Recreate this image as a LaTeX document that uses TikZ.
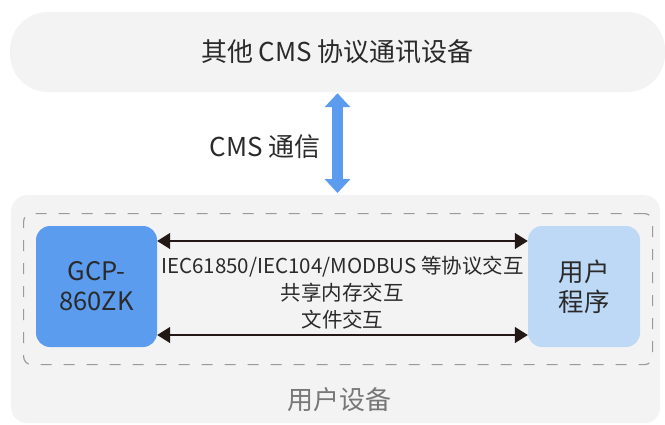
\documentclass[tikz,border=0pt]{standalone}
\usepackage{fontspec}
\setmainfont{Noto Sans CJK SC}
\usetikzlibrary{arrows.meta}
\definecolor{panel}{HTML}{F3F3F3}
\definecolor{dash}{HTML}{9A9A9A}
\definecolor{gcpblue}{HTML}{5C9CEE}
\definecolor{lightblue}{HTML}{BED9F6}
\definecolor{arrowblue}{HTML}{5C9CEE}
\definecolor{txt}{HTML}{2A2A2A}
\definecolor{graytxt}{HTML}{777777}
\definecolor{darkarrow}{HTML}{231815}
\tikzset{
  panelbox/.style={fill=panel, draw=none, inner sep=0pt},
  devbox/.style={draw=none, inner sep=0pt, rounded corners=14pt, minimum width=121pt, minimum height=121pt, align=center, text=txt, font=\fontsize{25.5}{30}\selectfont},
  linkarrow/.style={draw=darkarrow, line width=1.5pt, {Triangle[length=13pt,width=16pt]}-{Triangle[length=13pt,width=16pt]}},
  cmsarrow/.style={draw=arrowblue, line width=11pt, {Triangle[length=14pt,width=25pt]}-{Triangle[length=14pt,width=25pt]}}
}
\begin{document}
\begin{tikzpicture}[x=1pt,y=-1pt]
\useasboundingbox[fill=white] (0,0) rectangle (665,424);
% top panel
\node[panelbox, rounded corners=38pt, minimum width=655pt, minimum height=80pt, text=txt, font=\fontsize{26}{30}\selectfont] (other) at (337.5,52) {其他 CMS 协议通讯设备};
% bottom panel
\node[panelbox, rounded corners=16pt, minimum width=649pt, minimum height=228pt, anchor=north west] (user) at (11,195) {};
% dashed area
\node[draw=dash, dash pattern=on 11pt off 12pt, line width=1.2pt, rounded corners=8pt, minimum width=629pt, minimum height=151pt, anchor=north west, inner sep=0pt] (area) at (23,213) {};
% devices
\node[devbox, fill=gcpblue] (gcp) at (96.5,286.5) {GCP-\\860ZK};
\node[devbox, fill=lightblue, minimum width=112pt] (prog) at (584,286.5) {用户\\程序};
% links
\draw[linkarrow] ([yshift=45.5pt]gcp.east) -- ([yshift=45.5pt]prog.west);
\draw[linkarrow] ([yshift=-48.5pt]gcp.east) -- ([yshift=-48.5pt]prog.west);
\node[align=center, text=txt, font=\fontsize{20.5}{27}\selectfont, inner sep=0pt] (links) at (342.5,293) {IEC61850/IEC104/MODBUS 等协议交互\\共享内存交互\\文件交互};
% label
\node[text=graytxt, font=\fontsize{26}{30}\selectfont, inner sep=0pt] (userlbl) at (339,400) {用户设备};
% CMS arrow
\draw[cmsarrow] ([yshift=-1pt]other.south) -- ([yshift=2pt]other.south |- user.north);
\node[text=txt, font=\fontsize{26}{30}\selectfont, inner sep=0pt, anchor=east] (cmslbl) at (321,147) {CMS 通信};
\end{tikzpicture}
\end{document}
